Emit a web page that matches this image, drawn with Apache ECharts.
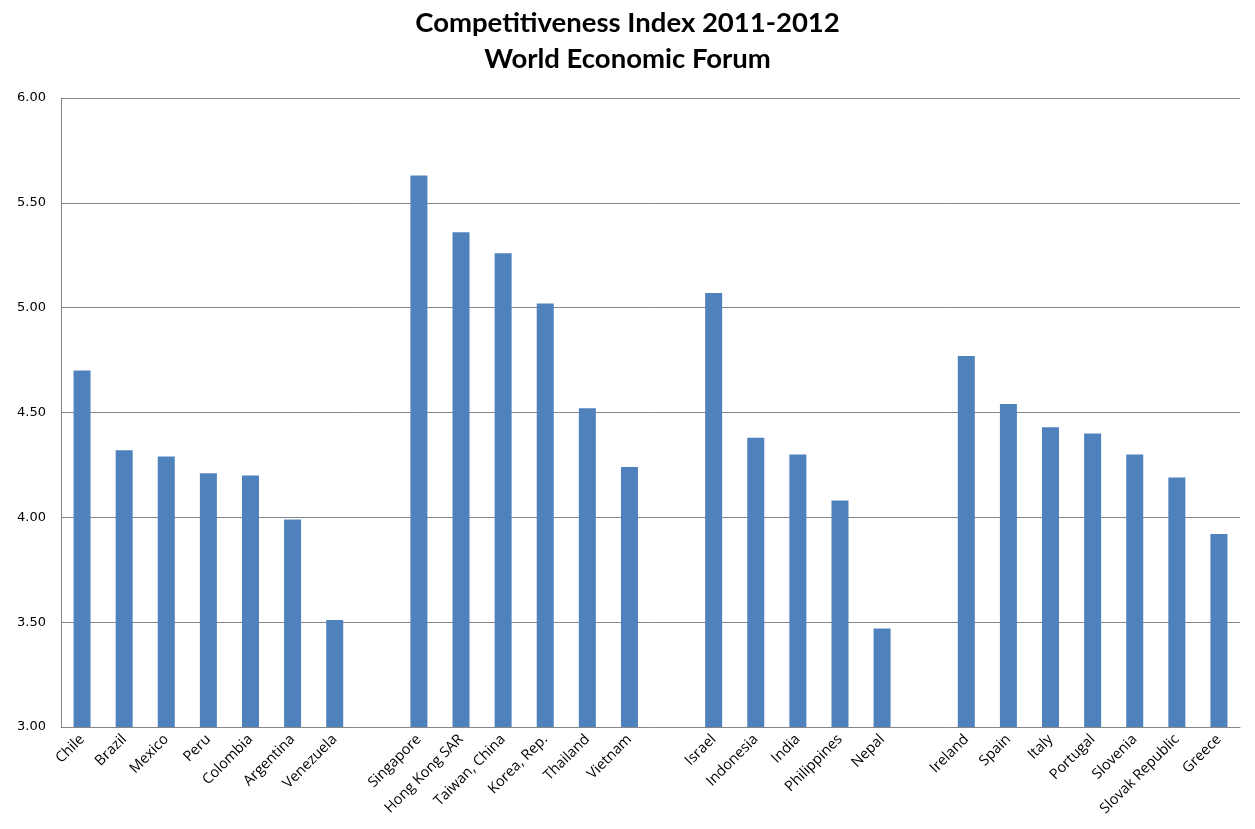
<!DOCTYPE html>
<html>
<head>
<meta charset="utf-8">
<script src="https://cdn.jsdelivr.net/npm/echarts@6/dist/echarts.min.js"></script>
<style>html,body{margin:0;padding:0;background:#fff;}#c{width:1255px;height:829px;}</style>
</head>
<body>
<div id="c"></div>
<script>
const categories = ['Chile','Brazil','Mexico','Peru','Colombia','Argentina','Venezuela','',
  'Singapore','Hong Kong SAR','Taiwan, China','Korea, Rep.','Thailand','Vietnam','',
  'Israel','Indonesia','India','Philippines','Nepal','',
  'Ireland','Spain','Italy','Portugal','Slovenia','Slovak Republic','Greece'];
const values = [4.70,4.32,4.29,4.21,4.20,3.99,3.51,null,
  5.63,5.36,5.26,5.02,4.52,4.24,null,
  5.07,4.38,4.30,4.08,3.47,null,
  4.77,4.54,4.43,4.40,4.30,4.19,3.92];
const yTicks = {min:3, max:6, interval:0.5};

const chart = echarts.init(document.getElementById('c'));
chart.setOption({
  animation:false,
  backgroundColor:'#fff',
  title:{
    text:'Competitiveness Index 2011-2012\nWorld Economic Forum',
    left:'center', top:0,
    textStyle:{fontFamily:'Lato', fontWeight:'bold', fontSize:27.5, color:'#000', lineHeight:36}
  },
  grid:{left:61, right:15, top:98, bottom:102},
  xAxis:{
    type:'category', data:categories, boundaryGap:true,
    axisLine:{lineStyle:{color:'#868686', width:1}},
    axisTick:{show:false},
    axisLabel:{rotate:45, interval:0, fontFamily:'Open Sans', fontSize:14.5, color:'#000', margin:10}
  },
  yAxis:{
    type:'value', min:yTicks.min, max:yTicks.max, interval:yTicks.interval,
    axisLine:{show:true, lineStyle:{color:'#868686'}},
    axisTick:{show:false},
    splitLine:{lineStyle:{color:'#868686', width:1}},
    axisLabel:{formatter:v=>v.toFixed(2), fontFamily:'DejaVu Sans', fontSize:13, color:'#000', margin:15}
  },
  series:[{
    type:'bar', data:values, barWidth:17,
    itemStyle:{color:'#4F81BD'}
  }]
});
</script>
</body>
</html>
